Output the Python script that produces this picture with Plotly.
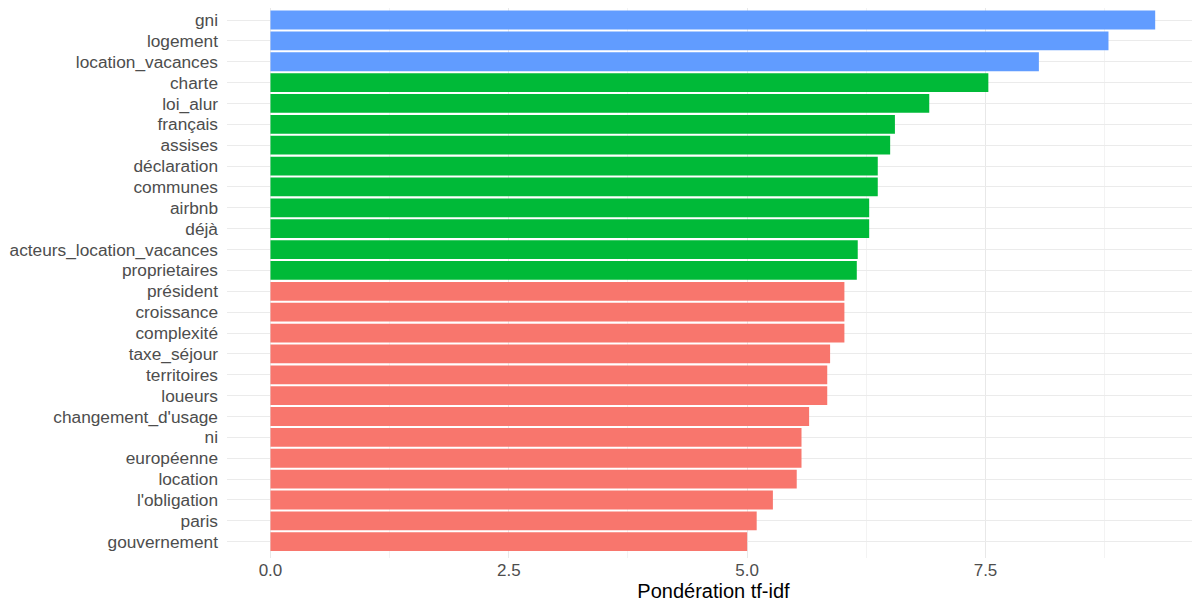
import plotly.graph_objects as go

# mots, du plus haut au plus bas
words = ['gni', 'logement', 'location_vacances', 'charte', 'loi_alur',
         'français', 'assises', 'déclaration', 'communes', 'airbnb', 'déjà',
         'acteurs_location_vacances', 'proprietaires', 'président',
         'croissance', 'complexité', 'taxe_séjour', 'territoires', 'loueurs',
         "changement_d'usage", 'ni', 'européenne', 'location',
         "l'obligation", 'paris', 'gouvernement']
tfidf = [9.28, 8.79, 8.06, 7.53, 6.91, 6.55, 6.50, 6.37, 6.37, 6.28, 6.28,
         6.16, 6.15, 6.02, 6.02, 6.02, 5.87, 5.84, 5.84, 5.65, 5.57, 5.57,
         5.52, 5.27, 5.10, 5.00]
groups = ['c'] * 3 + ['b'] * 10 + ['a'] * 13

palette = {'a': '#F8766D', 'b': '#00BA38', 'c': '#619CFF'}

x_ticks = [0, 2.5, 5, 7.5]
x_ticklabels = ['0.0', '2.5', '5.0', '7.5']

# plotly dessine les catégories de bas en haut
words_r = words[::-1]
tfidf_r = tfidf[::-1]
colors_r = [palette[g] for g in groups[::-1]]

fig = go.Figure(
    go.Bar(x=tfidf_r, y=words_r, orientation='h',
           marker=dict(color=colors_r, line=dict(width=0)),
           showlegend=False)
)

fig.update_layout(
    width=1200, height=608,
    margin=dict(l=219, r=8, t=0, b=58),
    plot_bgcolor='white', paper_bgcolor='white',
    bargap=0.1,
    font=dict(family='Liberation Sans, Arial, sans-serif'),
    xaxis=dict(
        range=[-0.456, 9.75],
        tickvals=x_ticks, ticktext=x_ticklabels,
        tickfont=dict(size=17, color='#4d4d4d'),
        showgrid=True, gridcolor='#e8e8e8', gridwidth=1,
        minor=dict(tickvals=[1.25, 3.75, 6.25, 8.75], showgrid=True,
                   gridcolor='#f3f3f3', gridwidth=1),
        zeroline=False, showline=False, ticks='',
        title=dict(text='Pondération tf-idf', standoff=4,
                   font=dict(size=20, color='black')),
    ),
    yaxis=dict(
        type='category', categoryorder='array', categoryarray=words_r,
        tickmode='array', tickvals=words_r, ticktext=words_r,
        range=[-0.78, 25.575],
        tickfont=dict(size=17.3, color='#4d4d4d'),
        showgrid=True, gridcolor='#ebebeb', gridwidth=1,
        zeroline=False, showline=False, ticks='',
        ticklabelstandoff=8,
    ),
)

fig.write_html('out.html')
